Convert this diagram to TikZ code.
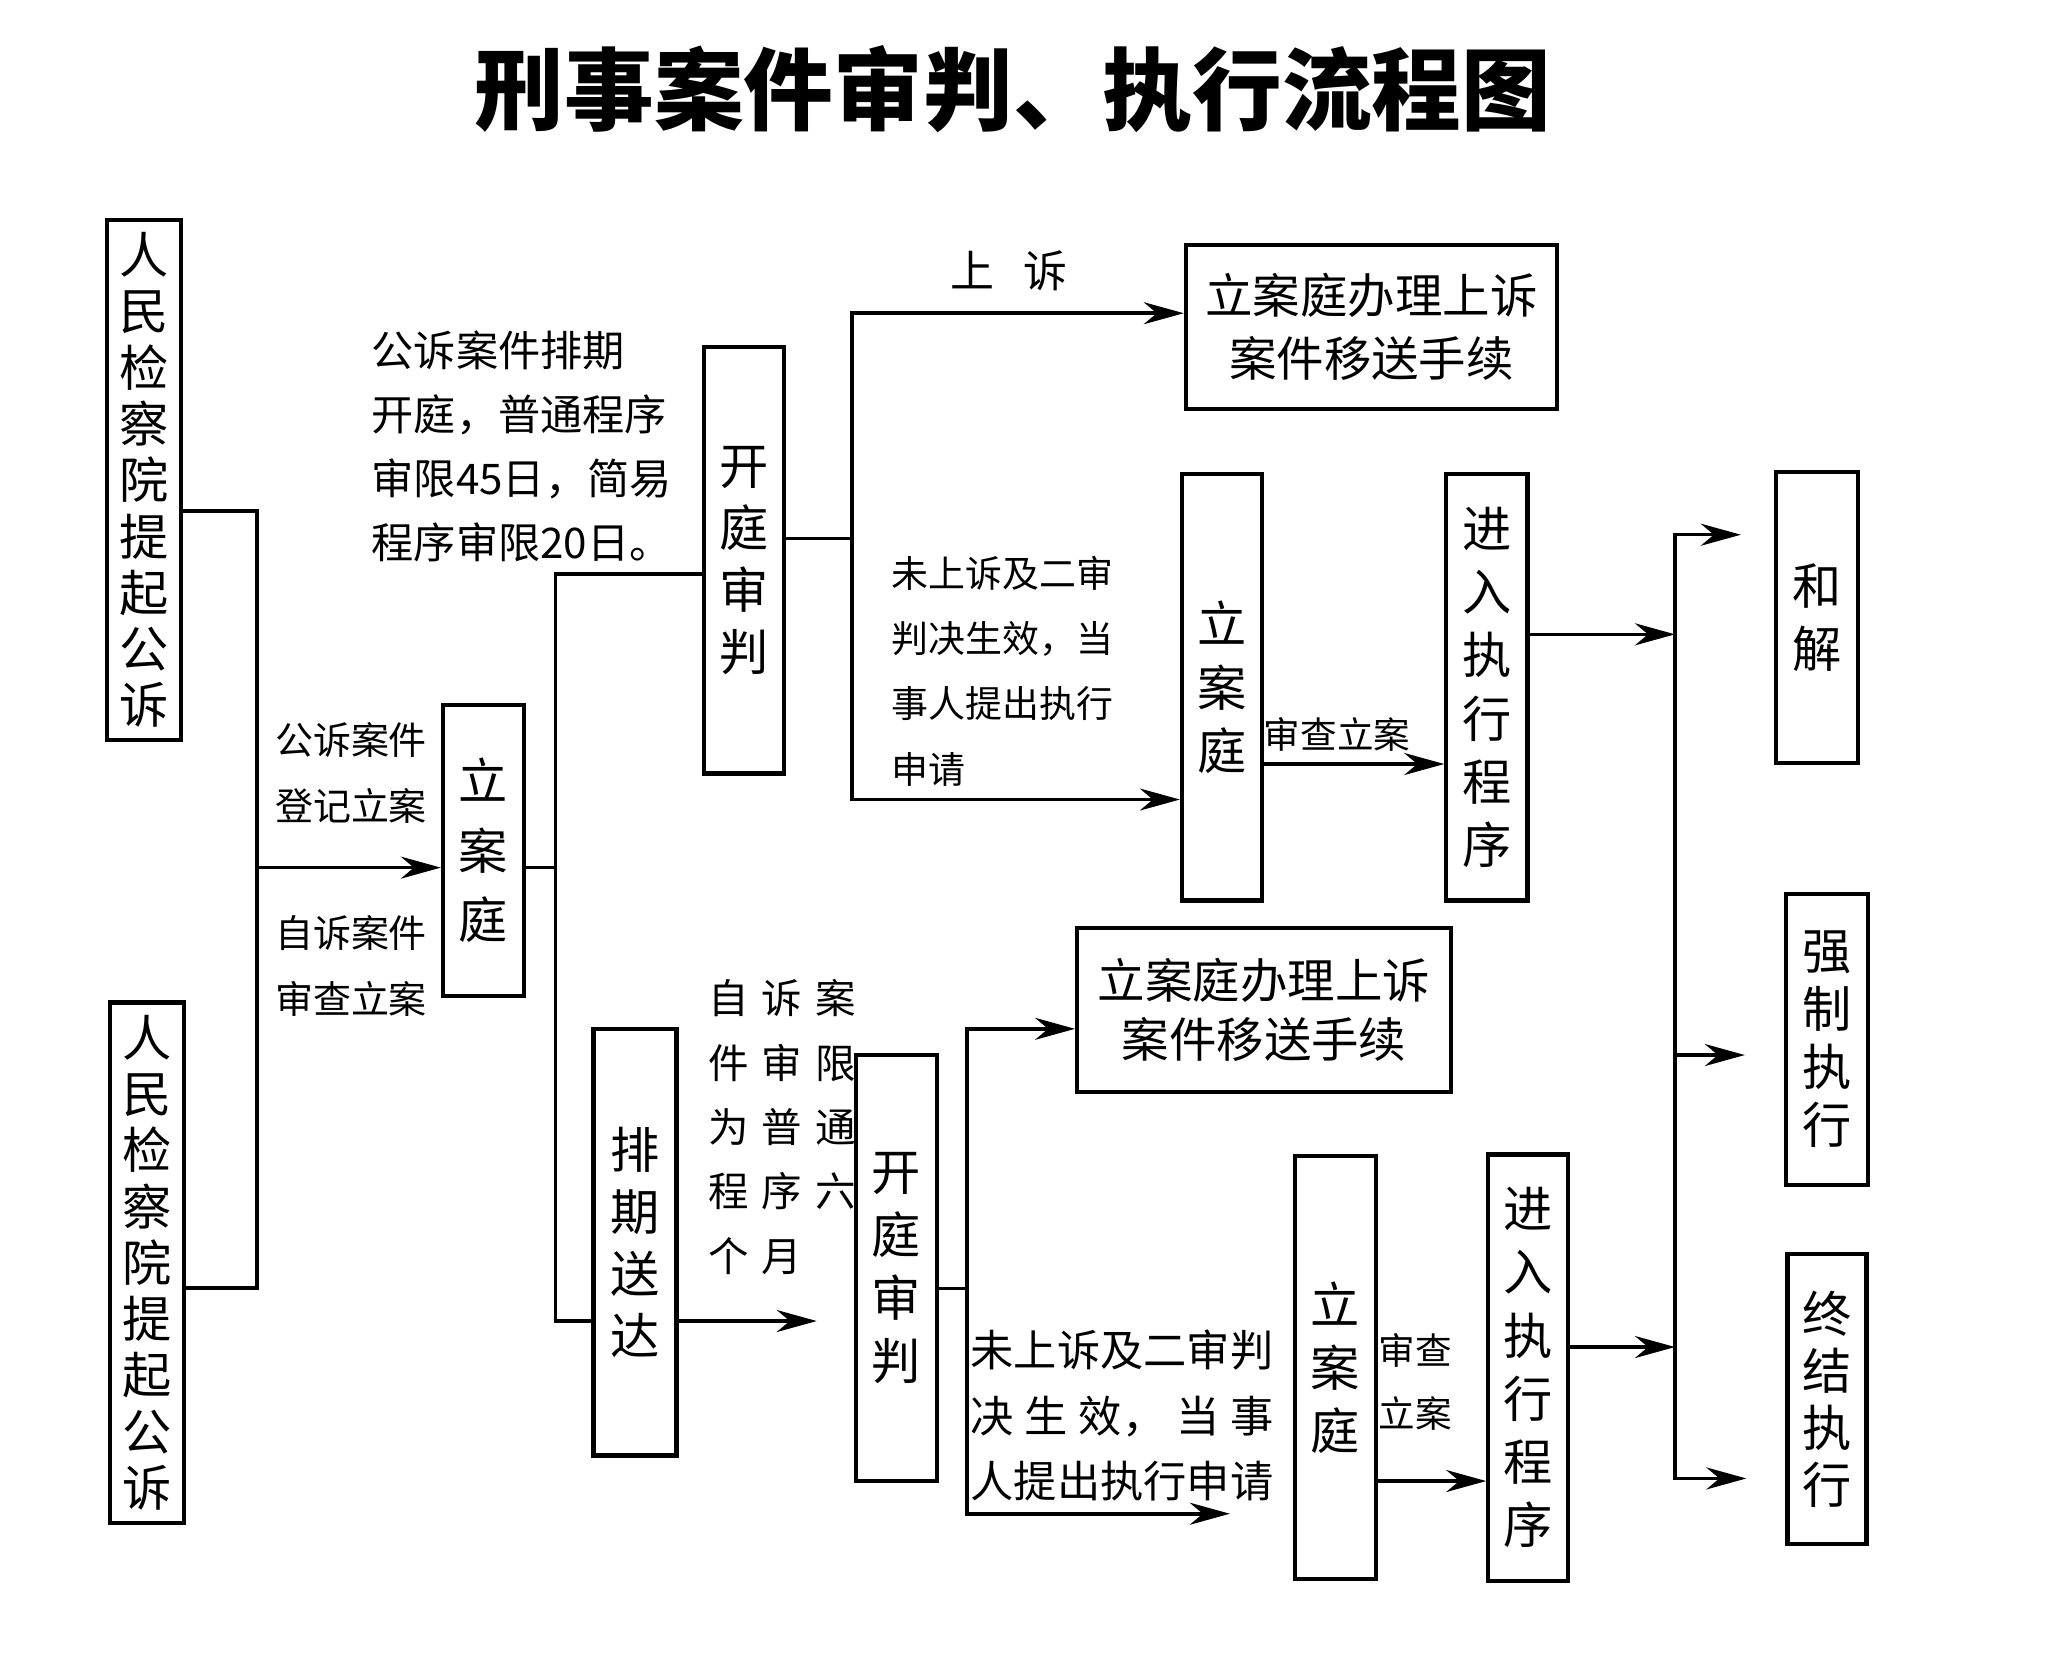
\documentclass[tikz,border=0pt]{standalone}
\usepackage{fontspec}
\setmainfont{Noto Sans CJK SC}
\usepackage{tikz}
\usetikzlibrary{arrows.meta, positioning}
\newcommand{\cgap}{\hspace{3.7pt}}
\tikzset{
  court/.style={
    rectangle, draw=black, line width=1.2pt,
    minimum width=0.8cm, minimum height=4.26cm,
    inner sep=0pt, align=center, font=\fontsize{14}{18}\selectfont
  },
  party/.style={
    court, minimum width=0.74cm, minimum height=5.2cm,
    font=\fontsize{14}{16}\selectfont
  },
  outcome/.style={
    court, minimum width=0.82cm, minimum height=2.91cm
  },
  transfer/.style={
    rectangle, draw=black, line width=1.2pt,
    minimum width=3.72cm, minimum height=1.64cm,
    align=center, font=\fontsize{13.5}{18}\selectfont
  },
  note/.style={inner sep=0pt, align=left, font=\fontsize{10.8}{18.6}\selectfont},
  arrow/.style={-{Stealth[length=4mm,width=2.2mm]}, line width=1pt},
  link/.style={line width=1pt},
  heading/.style={font=\fontsize{25.5}{30}\selectfont\bfseries}
}

\begin{document}
\begin{tikzpicture}[x=0.01cm, y=-0.01cm]
  \path[fill=white, use as bounding box] (0,0) rectangle (2055,1665);
  \node[heading] (title) at (1013,89) {刑事案件审判、执行流程图};

  \node[party] (pro1) at (144,480) {人\\民\\检\\察\\院\\提\\起\\公\\诉};
  \node[party, below=2.58cm of pro1, xshift=0.03cm] (pro2) {人\\民\\检\\察\\院\\提\\起\\公\\诉};
  \node[court, minimum width=0.81cm, minimum height=2.91cm, font=\fontsize{14}{19.8}\selectfont] (reg) at (483.5,850.5) {立\\案\\庭};
  \node[court, font=\fontsize{14}{17.6}\selectfont] (trial1) at (743.7,560.3) {开\\庭\\审\\判};
  \node[court, minimum width=0.83cm, font=\fontsize{14}{17.6}\selectfont] (sched) at (635,1242.4) {排\\期\\送\\达};
  \node[court, minimum width=0.81cm] (trial2) at (896.4,1268) {开\\庭\\审\\判};
  \node[transfer, minimum width=3.71cm] (appeal1) at (1371.5,327) {立案庭办理上诉\\案件移送手续};
  \node[transfer, minimum width=3.735cm, font=\fontsize{13.5}{16.8}\selectfont] (appeal2) at (1264,1009.9) {立案庭办理上诉\\案件移送手续};
  \node[court] (file1) at (1222,687.4) {立\\案\\庭};
  \node[court, minimum width=0.81cm, right=1.8cm of file1] (exec1) {进\\入\\执\\行\\程\\序};
  \node[court, minimum width=0.81cm, minimum height=4.23cm] (file2) at (1335.5,1367.5) {立\\案\\庭};
  \node[court, right=1.08cm of file2] (exec2) {进\\入\\执\\行\\程\\序};
  \node[outcome] (settle) at (1817,617.3) {和\\解};
  \node[outcome, font=\fontsize{14}{16.5}\selectfont] (force) at (1827,1039.3) {强\\制\\执\\行};
  \node[outcome, minimum width=0.79cm, minimum height=2.9cm, font=\fontsize{14}{16.2}\selectfont, below=0.65cm of force] (close) {终\\结\\执\\行};

  \node[note, align=center] (lblpub) at (351,773) {公诉案件\\登记立案};
  \node[note, align=center] (lblpriv) at (351,966) {自诉案件\\审查立案};
  \node[note, anchor=west, font=\fontsize{12}{18.2}\selectfont] (lbltime1) at (371,446) {公诉案件排期\\开庭，普通程序\\审限45日，简易\\程序审限20日。};
  \node[note, font=\fontsize{12.5}{15}\selectfont] (lblup) at (1009,271) {上\hspace{8pt}诉};
  \node[note, anchor=west, font=\fontsize{10.5}{18.6}\selectfont] (lbleff1) at (891,671) {未上诉及二审\\判决生效，当\\事人提出执行\\申请};
  \node[note, font=\fontsize{10.4}{12}\selectfont] (lblchk1) at (1337,734) {审查立案};
  \node[note, anchor=west, font=\fontsize{11.5}{18.3}\selectfont] (lbltime2) at (707.7,1127) {自\cgap 诉\cgap 案\\件\cgap 审\cgap 限\\为\cgap 普\cgap 通\\程\cgap 序\cgap 六\\个\cgap 月};
  \node[note, anchor=west, font=\fontsize{12.3}{18.6}\selectfont] (lbleff2) at (970,1415.5) {未上诉及二审判\\\hbox to 7em{决\hfill 生\hfill 效，\hfill 当\hfill 事}\\人提出执行申请};
  \node[note, align=center, font=\fontsize{10.4}{17.9}\selectfont] (lblchk2) at (1415.5,1381.5) {审查\\立案};

  \coordinate (j1) at (257,511);
  \coordinate (j2) at (257,1288);
  \coordinate (j3) at (257,867.6);
  \coordinate (s1) at (555.7,574);
  \coordinate (s2) at (555.7,1321);
  \coordinate (t1) at (851.9,538.7);
  \coordinate (u1) at (851.9,313.2);
  \coordinate (u2) at (851.9,799.5);
  \coordinate (t2) at (967.2,1288.3);
  \coordinate (v1) at (967.2,1028.8);
  \coordinate (v2) at (967.2,1513.7);
  \coordinate (r1) at (1300,764);
  \coordinate (r2) at (1430,1481);
  \coordinate (b1) at (1675,534.7);
  \coordinate (b2) at (1675,1478.4);
  \coordinate (b3) at (1675,1055);
  \coordinate (b4) at (1675,634.3);
  \coordinate (b5) at (1675,1347);

  \draw[link] (pro1.east |- j1) -- (j1) -- (j2) -- (pro2.east |- j2);
  \draw[arrow] (j3) -- (reg.west |- j3);
  \draw[link] (reg.east |- j3) -- (s1 |- j3);
  \draw[link] (trial1.west |- s1) -- (s1) -- (s2) -- (sched.west |- s2);
  \draw[link] (trial1.east |- t1) -- (t1);
  \draw[arrow] (u2) -- (u1) -- (appeal1.west |- u1);
  \draw[arrow] (u1) -- (u2) -- (file1.west |- u2);
  \draw[arrow] (file1.east |- r1) -- (exec1.west |- r1);
  \draw[arrow] (exec1.east |- b4) -- (b4);
  \draw[arrow, shorten >=0.33cm] (b2) -- (b1) -- (settle.west |- b1);
  \draw[arrow, shorten >=0.39cm] (b3) -- (force.west |- b3);
  \draw[arrow, shorten >=0.39cm] (b1) -- (b2) -- (close.west |- b2);
  \draw[arrow, shorten >=0.37cm] (sched.east |- s2) -- (trial2.west |- s2);
  \draw[link] (trial2.east |- t2) -- (t2);
  \draw[arrow] (v2) -- (v1) -- (appeal2.west |- v1);
  \draw[arrow, shorten >=0.63cm] (v1) -- (v2) -- (file2.west |- v2);
  \draw[arrow] (file2.east |- r2) -- (exec2.west |- r2);
  \draw[arrow] (exec2.east |- b5) -- (b5);
\end{tikzpicture}
\end{document}
